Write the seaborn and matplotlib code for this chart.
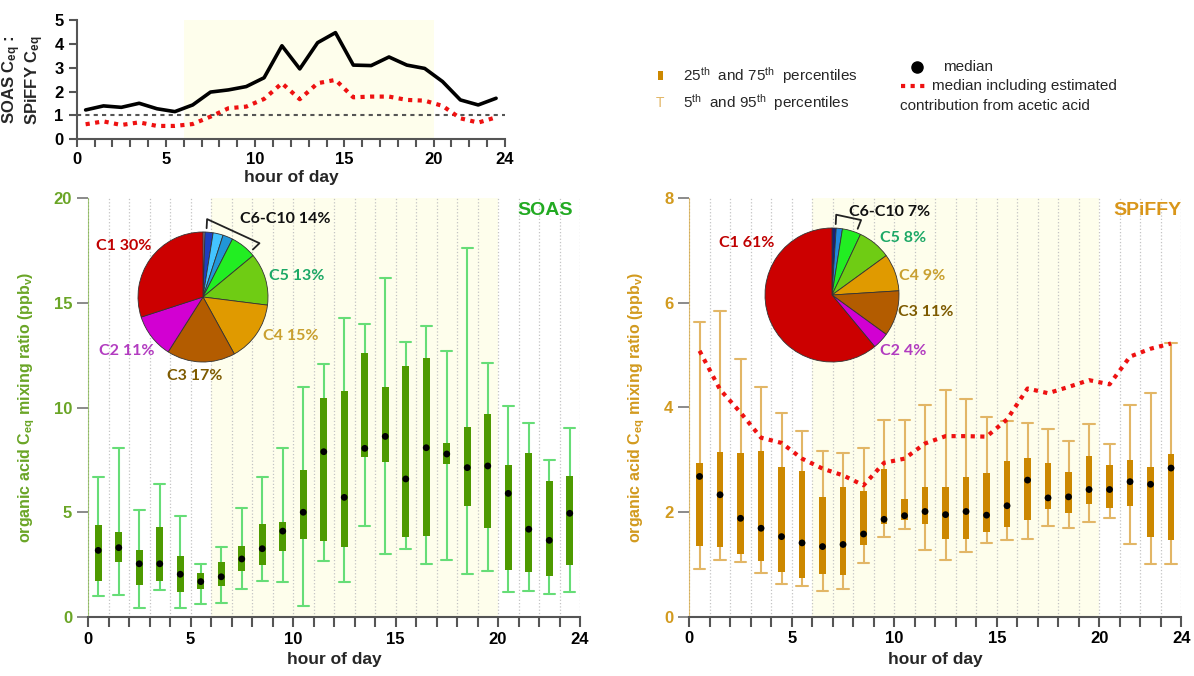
import numpy as np
import pandas as pd
import matplotlib
matplotlib.use('Agg')
import matplotlib.pyplot as plt
import seaborn as sns

# ---- data ----
hours = np.arange(24) + 0.5

# SOAS : SPiFFY ratio of medians (top panel)
ratio_median = [1.23, 1.40, 1.34, 1.51, 1.28, 1.16, 1.44, 1.98, 2.07, 2.21, 2.58, 3.92,
                2.95, 4.05, 4.47, 3.11, 3.09, 3.45, 3.11, 2.97, 2.42, 1.65, 1.44, 1.72]
ratio_acetic = [0.63, 0.75, 0.60, 0.71, 0.56, 0.56, 0.64, 0.95, 1.30, 1.37, 1.69, 2.35,
                1.68, 2.35, 2.49, 1.76, 1.79, 1.79, 1.65, 1.62, 1.40, 0.88, 0.70, 0.92]

# SOAS percentiles (ppbv)
soas_p5 = [1.02, 1.05, 0.41, 1.29, 0.45, 0.63, 0.65, 1.34, 1.73, 1.67, 0.51, 2.69,
           1.69, 4.33, 2.99, 3.23, 2.53, 2.74, 2.04, 2.20, 1.19, 1.23, 1.10, 1.19]
soas_q1 = [1.73, 2.63, 1.51, 1.70, 1.21, 1.35, 1.46, 2.20, 2.47, 3.13, 3.72, 3.61,
           3.36, 7.62, 7.40, 3.83, 3.85, 7.30, 5.30, 4.26, 2.24, 2.15, 1.94, 2.48]
soas_med = [3.18, 3.31, 2.54, 2.54, 2.04, 1.69, 1.92, 2.77, 3.26, 4.10, 5.00, 7.89,
            5.71, 8.05, 8.62, 6.59, 8.08, 7.78, 7.13, 7.21, 5.90, 4.19, 3.66, 4.95]
soas_q3 = [4.39, 4.07, 3.20, 4.30, 2.90, 2.10, 2.64, 3.40, 4.44, 4.55, 7.03, 10.44,
           10.80, 12.59, 10.98, 11.98, 12.35, 8.29, 9.07, 9.71, 7.26, 7.84, 6.49, 6.72]
soas_p95 = [6.67, 8.08, 5.09, 6.33, 4.80, 2.54, 3.34, 5.22, 6.70, 8.05, 10.98, 12.10,
            14.29, 14.00, 16.18, 13.11, 13.90, 12.68, 17.60, 12.11, 10.07, 9.27, 7.51, 9.00]

# SPiFFY percentiles (ppbv)
spf_p5 = [0.92, 1.09, 1.04, 0.84, 0.63, 0.58, 0.50, 0.52, 1.03, 1.52, 1.67, 1.27,
          1.09, 1.24, 1.41, 1.46, 1.49, 1.73, 1.70, 1.80, 1.89, 1.39, 1.00, 1.00]
spf_q1 = [1.36, 1.34, 1.20, 1.07, 0.86, 0.74, 0.81, 0.79, 1.37, 1.77, 1.84, 1.77,
          1.48, 1.48, 1.62, 1.71, 1.85, 2.06, 1.98, 2.15, 2.08, 2.11, 1.53, 1.46]
spf_med = [2.68, 2.33, 1.88, 1.69, 1.53, 1.41, 1.34, 1.38, 1.58, 1.86, 1.93, 2.01,
           1.95, 2.01, 1.94, 2.12, 2.61, 2.27, 2.29, 2.43, 2.43, 2.58, 2.53, 2.84]
spf_q3 = [2.94, 3.14, 3.13, 3.17, 2.86, 2.79, 2.28, 2.48, 2.41, 2.83, 2.24, 2.48,
          2.48, 2.66, 2.74, 2.97, 3.03, 2.93, 2.77, 3.07, 2.89, 3.00, 2.86, 3.10]
spf_p95 = [5.64, 5.84, 4.92, 4.39, 3.90, 3.54, 3.17, 3.13, 3.23, 3.75, 3.75, 4.04,
           4.33, 4.16, 3.81, 3.74, 3.70, 3.59, 3.36, 3.69, 3.30, 4.04, 4.27, 5.22]
spf_acetic = [5.08, 4.34, 3.90, 3.42, 3.32, 3.02, 2.83, 2.70, 2.51, 2.94, 3.02, 3.31,
              3.45, 3.45, 3.44, 3.77, 4.36, 4.27, 4.39, 4.52, 4.44, 4.97, 5.12, 5.22]

# carbon-number composition (%), clockwise from top
soas_pie = [0.5, 2.0, 2.5, 2.5, 6.5, 13, 15, 17, 11, 30]
soas_pie_colors = ['#b8a8c8', '#1f3fbf', '#44c4ff', '#2196d8', '#22ee22',
                   '#6fcc14', '#e09a00', '#b35c00', '#d200d2', '#cc0000']
spf_pie = [1.0, 1.5, 4.5, 8, 9, 11, 4, 61]
spf_pie_colors = ['#14207a', '#2288dd', '#22ee22',
                  '#6fcc14', '#e09a00', '#b35c00', '#d200d2', '#cc0000']
soas_pie_labels = ['C6-C10 14%', 'C5 13%', 'C4 15%', 'C3 17%', 'C2 11%', 'C1 30%']
spf_pie_labels = ['C6-C10 7%', 'C5 8%', 'C4 9%', 'C3 11%', 'C2 4%', 'C1 61%']

# ---- style ----
sns.set_style('ticks')
plt.rcParams['font.family'] = ['Liberation Sans', 'DejaVu Sans']
plt.rcParams['mathtext.fontset'] = 'custom'
plt.rcParams['mathtext.rm'] = 'Liberation Sans'
plt.rcParams['mathtext.bf'] = 'Liberation Sans:bold'
plt.rcParams['mathtext.it'] = 'Liberation Sans:italic'

W, H = 1194, 676
SHADE = '#fefeec'
GREEN_LAB = '#6aa526'
GOLD_LAB = '#d29a1e'
SOAS_BOX, SOAS_WH = '#4e9a00', '#66dd77'
SPF_BOX, SPF_WH = '#cc8800', '#e2b666'
RED = '#ee1111'
AXC = '#555555'


def rect(x0, y0, x1, y1):
    return [x0 / W, 1 - y1 / H, (x1 - x0) / W, (y1 - y0) / H]


fig = plt.figure(figsize=(W / 100, H / 100), dpi=100)

# ---- top ratio panel ----
ax_t = fig.add_axes(rect(76.7, 20, 505, 139.3))
ax_t.axvspan(6, 20, color=SHADE, lw=0, zorder=0)
ax_t.axhline(1, color=AXC, ls=(0, (2, 2)), lw=1.5, zorder=1)
top = pd.DataFrame({'hour': hours, 'median': ratio_median, 'acetic': ratio_acetic})
sns.lineplot(data=top, x='hour', y='median', ax=ax_t, color='black', lw=2.6, zorder=3)
sns.lineplot(data=top, x='hour', y='acetic', ax=ax_t, color=RED, lw=3,
             ls=(0, (1, 1.3)), zorder=3)
ax_t.set_xlim(0, 24)
ax_t.set_ylim(0, 5)
ax_t.set_xticks([0, 5, 10, 15, 20, 24])
ax_t.set_xticks(range(25), minor=True)
ax_t.set_yticks(range(6))
ax_t.set_xlabel('hour of day', fontsize=12.5, fontweight='bold', labelpad=2)
ax_t.set_ylabel('SOAS $\\mathbf{C_{eq}}$ :\nSPiFFY $\\mathbf{C_{eq}}$', fontsize=12,
                fontweight='bold', labelpad=6, linespacing=1.0)
for s in ['top', 'right']:
    ax_t.spines[s].set_visible(False)
for s in ['left', 'bottom']:
    ax_t.spines[s].set_color(AXC)
    ax_t.spines[s].set_linewidth(1.5)
ax_t.tick_params(axis='both', which='both', colors=AXC, width=1.5, length=6)
ax_t.tick_params(axis='both', labelcolor='black', labelsize=12)
for lab in ax_t.get_xticklabels() + ax_t.get_yticklabels():
    lab.set_fontweight('bold')

title_colors = {'SOAS': '#22aa22', 'SPiFFY': '#d9961a'}


def box_panel(ax, p5, q1, med, q3, p95, box_c, wh_c, lab_c, ymax, yticks, title, tx):
    ax.axvspan(6, 20, color=SHADE, lw=0, zorder=0)
    stats = [dict(whislo=a, q1=b, med=c, q3=d, whishi=e, fliers=[])
             for a, b, c, d, e in zip(p5, q1, med, q3, p95)]
    ax.bxp(stats, positions=hours, widths=0.33, capwidths=0.55, patch_artist=True,
           showfliers=False, manage_ticks=False,
           boxprops=dict(facecolor=box_c, edgecolor=box_c, lw=0, zorder=3),
           whiskerprops=dict(color=wh_c, lw=1.5, zorder=2),
           capprops=dict(color=wh_c, lw=1.5, zorder=2),
           medianprops=dict(lw=0))
    sns.scatterplot(x=hours, y=med, ax=ax, color='black', s=24, edgecolor='none',
                    zorder=5)
    ax.set_xlim(0, 24)
    ax.set_ylim(0, ymax)
    ax.set_xticks([0, 5, 10, 15, 20, 24])
    ax.set_xticks(range(25), minor=True)
    ax.set_yticks(yticks)
    ax.grid(axis='x', which='both', ls=':', color='#c4c4c4', lw=0.9, zorder=1)
    ax.set_axisbelow(True)
    for s in ['top', 'right']:
        ax.spines[s].set_visible(False)
    ax.spines['bottom'].set_color(AXC)
    ax.spines['bottom'].set_linewidth(1.5)
    ax.spines['left'].set_color(lab_c)
    ax.spines['left'].set_linewidth(0.8)
    ax.spines['left'].set_alpha(0.6)
    ax.tick_params(axis='x', which='both', colors=AXC, width=1.5, length=7,
                   labelcolor='black', labelsize=12)
    ax.tick_params(axis='y', colors='#777777', width=1.2, length=8,
                   labelcolor=lab_c, labelsize=12)
    for lab in ax.get_xticklabels() + ax.get_yticklabels():
        lab.set_fontweight('bold')
    ax.set_xlabel('hour of day', fontsize=12.5, fontweight='bold', labelpad=4)
    ax.set_ylabel('organic acid $\\mathbf{C_{eq}}$ mixing ratio (ppb$\\mathbf{_v}$)',
                  fontsize=11.5, fontweight='bold', color=lab_c, labelpad=12)
    ax.text(tx, 0.99, title, transform=ax.transAxes, ha='right', va='top',
            fontsize=14, fontweight='bold', color=title_colors[title], zorder=6)


ax_l = fig.add_axes(rect(88, 198, 580, 617))
box_panel(ax_l, soas_p5, soas_q1, soas_med, soas_q3, soas_p95,
          SOAS_BOX, SOAS_WH, GREEN_LAB, 20, [0, 5, 10, 15, 20], 'SOAS', 0.985)

ax_r = fig.add_axes(rect(689.3, 198, 1181.3, 616.7))
box_panel(ax_r, spf_p5, spf_q1, spf_med, spf_q3, spf_p95,
          SPF_BOX, SPF_WH, GOLD_LAB, 8, [0, 2, 4, 6, 8], 'SPiFFY', 1.0)
acet = pd.DataFrame({'hour': hours, 'acetic': spf_acetic})
sns.lineplot(data=acet, x='hour', y='acetic', ax=ax_r, color=RED, lw=3,
             ls=(0, (1, 1.3)), zorder=6)
ax_r.set_xlabel('hour of day', fontsize=12.5, fontweight='bold', labelpad=4)
ax_r.set_ylabel('organic acid $\\mathbf{C_{eq}}$ mixing ratio (ppb$\\mathbf{_v}$)',
                fontsize=11.5, fontweight='bold', color=GOLD_LAB, labelpad=12)


# ---- composition pies ----
def pie(box, values, colors, n_small):
    ax = fig.add_axes(box)
    ax.pie(values, colors=colors, startangle=90, counterclock=False,
           wedgeprops=dict(edgecolor='#333333', lw=0.6))
    ax.set_xlim(-1, 1)
    ax.set_ylim(-1, 1)
    ax.set_aspect('equal')
    # bracket over the C6-C10 wedges
    frac = sum(values[:n_small]) / sum(values)
    a0 = np.deg2rad(90 - 3)
    a1 = np.deg2rad(90 - 360 * frac + 4)
    r_in, r_out = 1.06, 1.2
    xs = [r_in * np.cos(a0), r_out * np.cos(a0), r_out * np.cos(a1), r_in * np.cos(a1)]
    ys = [r_in * np.sin(a0), r_out * np.sin(a0), r_out * np.sin(a1), r_in * np.sin(a1)]
    ax.plot(xs, ys, color='#222222', lw=1.3, clip_on=False)
    return ax


pie(rect(138, 232, 268, 362), soas_pie, soas_pie_colors, 5)
pie(rect(765, 228, 899, 362), spf_pie, spf_pie_colors, 3)

# ---- overlay for labels / legend in pixel space ----
ov = fig.add_axes([0, 0, 1, 1], zorder=10)
ov.set_xlim(0, W)
ov.set_ylim(H, 0)
ov.axis('off')
ov.patch.set_alpha(0)

pie_lab_colors = ['#111111', '#1ca866', '#c9a030', '#7d5a00', '#b23cc0', '#c00000']
soas_pos = [(285, 219), (297, 276), (291, 336), (195, 376), (127, 351), (124, 246)]
spf_pos = [(890, 212), (903, 238), (922, 276), (926, 312), (903, 351), (747, 243)]
for labels, pos in [(soas_pie_labels, soas_pos), (spf_pie_labels, spf_pos)]:
    for t, (x, y), c in zip(labels, pos, pie_lab_colors):
        ov.text(x, y, t, ha='center', va='center', fontsize=11.5, fontweight='bold',
                color=c, family=['Lato', 'DejaVu Sans'])

# legend
ov.add_patch(plt.Rectangle((658, 71), 5, 9, color=SPF_BOX, lw=0))
ov.text(660.5, 103, 'T', ha='center', va='center', fontsize=10, color=SPF_WH)
ov.text(683, 76, '25$^{\\mathrm{th}}$  and 75$^{\\mathrm{th}}$  percentiles',
        ha='left', va='center', fontsize=11)
ov.text(683, 103, '5$^{\\mathrm{th}}$  and 95$^{\\mathrm{th}}$  percentiles',
        ha='left', va='center', fontsize=11)
ov.plot([917], [67], 'o', color='black', ms=8)
ov.text(943, 67, 'median', ha='left', va='center', fontsize=11)
ov.plot([901, 925], [86, 86], color=RED, lw=3, ls=(0, (1, 1.3)))
ov.text(932, 86, 'median including estimated', ha='left', va='center', fontsize=11)
ov.text(900, 106, 'contribution from acetic acid', ha='left', va='center', fontsize=11)

fig.savefig('out.png', dpi=100)
